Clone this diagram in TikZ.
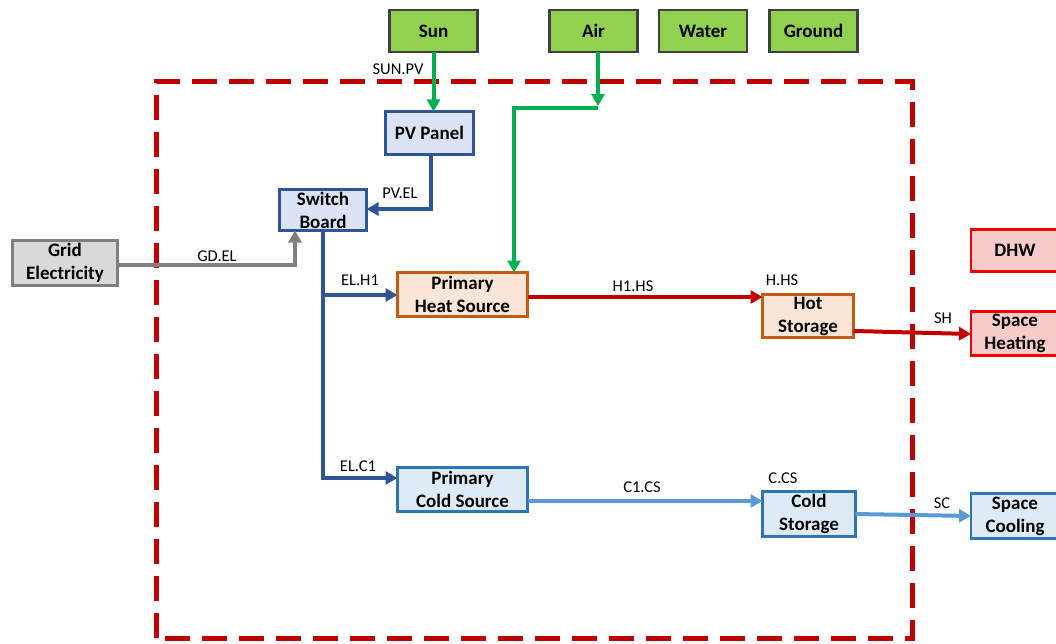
\documentclass[tikz,border=0pt]{standalone}
\usepackage{fontspec}
\setmainfont{Carlito}
\usetikzlibrary{arrows.meta}
\definecolor{srcfill}{HTML}{92D050}
\definecolor{srcdraw}{HTML}{404040}
\definecolor{elfill}{HTML}{DAE3F3}
\definecolor{eldraw}{HTML}{2F5597}
\definecolor{hotfill}{HTML}{FBE5D6}
\definecolor{hotdraw}{HTML}{C55A11}
\definecolor{demfill}{HTML}{F8CBCB}
\definecolor{demdraw}{HTML}{F00000}
\definecolor{coldfill}{HTML}{DEEBF7}
\definecolor{colddraw}{HTML}{2E75B6}
\definecolor{gridfill}{HTML}{D9D9D9}
\definecolor{griddraw}{HTML}{7F7F7F}
\definecolor{redline}{HTML}{C00000}
\definecolor{coldline}{HTML}{5B9BD5}
\definecolor{greenline}{HTML}{00B050}
\definecolor{grayline}{HTML}{808080}
\begin{document}
\begin{tikzpicture}[x=1pt,y=-1pt,
  box/.style={draw, line width=2.6pt, align=center, inner sep=0pt, outer sep=0pt,
    font=\bfseries\fontsize{19}{23}\selectfont},
  src/.style={box, fill=srcfill, draw=srcdraw, minimum width=88pt, minimum height=42pt},
  elbox/.style={box, fill=elfill, draw=eldraw},
  hotbox/.style={box, fill=hotfill, draw=hotdraw},
  dembox/.style={box, fill=demfill, draw=demdraw},
  coldbox/.style={box, fill=coldfill, draw=colddraw},
  gridbox/.style={box, fill=gridfill, draw=griddraw},
  conn/.style={line width=4pt, line join=miter, -{Triangle[length=12pt,width=13pt]}},
  plainconn/.style={line width=4pt, line join=miter},
  lbl/.style={font=\fontsize{16.5}{19}\selectfont, inner sep=0pt},
  boundary/.style={draw=redline, line width=5pt, dash pattern=on 25pt off 12pt}
]
\useasboundingbox (0,0) rectangle (1056,644);
\fill[white] (0,0) rectangle (1056,644);

% system boundary
\draw[boundary] (156,638) -- (156,82) -- (912,82) -- (912,638) -- cycle;

% sources
\node[src] (sun) at (433.5,31) {Sun};
\node[src] (air) at (593.5,31) {Air};
\node[src] (water) at (703,31) {Water};
\node[src] (ground) at (813.5,31) {Ground};

% components
\node[elbox, minimum width=88pt, minimum height=43pt] (pv) at (429.5,133) {PV Panel};
\node[elbox, minimum width=87pt, minimum height=41pt] (sb) at (323,210) {Switch\\Board};
\node[gridbox, minimum width=105pt, minimum height=45pt] (grid) at (65,263) {Grid\\Electricity};
\node[hotbox, minimum width=130pt, minimum height=44pt] (phs) at (462.5,294.5) {Primary\\Heat Source};
\node[hotbox, minimum width=91pt, minimum height=43pt] (hs) at (808,316) {Hot\\Storage};
\node[dembox, minimum width=88pt, minimum height=42pt] (dhw) at (1015,250.5) {DHW};
\node[dembox, minimum width=88pt, minimum height=44pt] (sh) at (1015,333.5) {Space\\Heating};
\node[coldbox, minimum width=130pt, minimum height=44pt] (pcs) at (462.5,489.5) {Primary\\Cold Source};
\node[coldbox, minimum width=93pt, minimum height=45pt] (cs) at (809,514) {Cold\\Storage};
\node[coldbox, minimum width=88pt, minimum height=45pt] (sc) at (1015,516) {Space\\Cooling};

% helper coordinates
\coordinate (airj) at (598,108);
\coordinate (airk) at (514,108);
\coordinate (pvk) at (431,209);
\coordinate (gdk) at (295,265);
\coordinate (elk) at (323,293);
\coordinate (elc) at (323,480);

% green flows
\draw[conn, greenline] (sun.south) -- (sun.south |- pv.north);
\draw[conn, greenline] (air.south -| airj) -- ([yshift=2pt]airj);
\draw[conn, greenline] (airj) -- (airk) -- (airk |- phs.north);

% electricity
\draw[conn, eldraw] (pv.south -| pvk) -- (pvk) -- (pvk -| sb.east);
\draw[conn, grayline] (grid.east |- gdk) -- (gdk) -- (gdk |- sb.south);
\draw[plainconn, eldraw] (sb.south) -- (elc);
\draw[conn, eldraw] ([yshift=-2pt]elk) -- ([yshift=-2pt]elk -| phs.west);
\draw[conn, eldraw] ([yshift=2pt]elc) -- ([yshift=2pt]elc -| pcs.west);

% heat
\coordinate (hk) at (529,297);
\draw[conn, redline] (phs.east |- hk) -- (hk -| hs.west);
\draw[conn, redline] ([yshift=-15pt]hs.east) -- ([yshift=-0.5pt]sh.west);

% cold
\coordinate (ck) at (529,501);
\draw[conn, coldline] (pcs.east |- ck) -- (ck -| cs.west);
\draw[conn, coldline] (cs.east) -- (sc.west);

% labels
\node[lbl] (lsunpv) at (398,69) {SUN.PV};
\node[lbl] (lpvel) at (400,193) {PV.EL};
\node[lbl] (lgdel) at (217,256) {GD.EL};
\node[lbl] (lelh1) at (360,280) {EL.H1};
\node[lbl] (lelc1) at (358,466) {EL.C1};
\node[lbl] (lh1hs) at (633,286) {H1.HS};
\node[lbl] (lc1cs) at (642,487) {C1.CS};
\node[lbl] (lhhs) at (782,280) {H.HS};
\node[lbl] (lccs) at (783,478) {C.CS};
\node[lbl] (lsh) at (943,318) {SH};
\node[lbl] (lsc) at (942,503) {SC};
\end{tikzpicture}
\end{document}
